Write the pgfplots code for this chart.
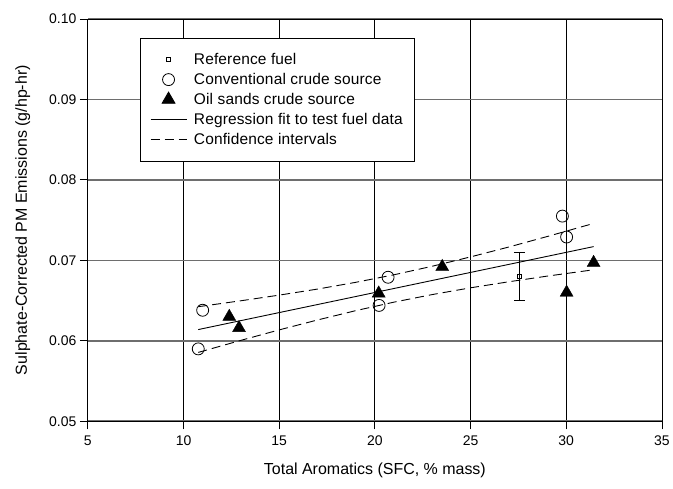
\documentclass[border=0pt]{standalone}
\usepackage{fontspec}
\setmainfont{Liberation Sans}
\usepackage{pgfplots}
\pgfplotsset{compat=1.18}

\definecolor{hgrid}{RGB}{110,110,110}

\begin{document}
\begin{tikzpicture}
\begin{axis}[
    scale only axis,
    width=575pt, height=403pt,
    xmin=5, xmax=35, ymin=0.05, ymax=0.10,
    xtick={5,10,...,35},
    ytick={0.05,0.06,...,0.10},
    grid=major,
    x grid style={black, line width=0.8pt},
    y grid style={hgrid, line width=1.6pt},
    axis line style={black, line width=0.8pt},
    tick pos=left, tick align=outside,
    major tick length=8pt,
    every tick/.style={black, line width=0.8pt},
    /pgf/number format/assume math mode=true,
    yticklabel style={/pgf/number format/.cd, fixed, fixed zerofill, precision=2},
    xticklabel style={yshift=-3pt, /pgf/number format/.cd, fixed},
    tick label style={font=\fontsize{14}{16}\selectfont},
    label style={font=\fontsize{16}{18}\selectfont},
    xlabel={Total Aromatics (SFC, \% mass)},
    ylabel={Sulphate-Corrected PM Emissions (g/hp-hr)},
    xlabel style={yshift=-10pt},
    ylabel style={yshift=12pt},
    legend cell align=left,
    legend style={at={(rel axis cs:0.0904,0.953)}, anchor=north west,
        draw=black, line width=0.8pt, font=\fontsize{15.5}{18}\selectfont\addfontfeatures{LetterSpace=1},
        row sep=3.3pt, inner xsep=10pt, inner ysep=13pt,
        /tikz/every odd column/.append style={column sep=5pt},
        /pgfplots/legend image code/.code={%
            \draw[mark repeat=2,mark phase=2,#1] plot coordinates {(0pt,0pt)(18pt,0pt)(36pt,0pt)};}},
]
% reference fuel with error bar
\addplot[only marks, mark=square, mark size=2pt, line width=0.8pt,
    error bars/.cd, y dir=both, y explicit,
    error mark options={rotate=90, mark size=5.5pt, line width=0.8pt},
    error bar style={line width=0.8pt}]
    coordinates {(27.55,0.0680) +- (0,0.0030)};
\addplot[only marks, mark=o, mark size=6pt, line width=0.8pt, mark options={fill=white}]
    coordinates {(10.77,0.0590) (11.0,0.0638) (20.22,0.0644) (20.69,0.0679) (29.8,0.0755) (30.02,0.0729)};
\addplot[only marks, mark=triangle*, mark size=7.5pt, black]
    coordinates {(12.39,0.0630) (12.9,0.0616) (20.2,0.0659) (23.52,0.0692) (30.02,0.0660) (31.43,0.0697)};
\addplot[black, line width=0.9pt]
    coordinates {(10.77,0.06140) (31.43,0.07171)};
\addplot[black, line width=0.9pt, dash pattern=on 9pt off 5pt]
    coordinates {(10.77,0.06424) (13,0.06498) (15,0.06568) (17,0.06643) (19,0.06727) (21,0.06821)
                 (23,0.06927) (25,0.07043) (27,0.07166) (29,0.07296) (31.43,0.07459)};
\addplot[black, line width=0.9pt, dash pattern=on 9pt off 5pt, forget plot]
    coordinates {(10.77,0.05856) (13,0.06006) (15,0.06136) (17,0.06259) (19,0.06375) (21,0.06481)
                 (23,0.06575) (25,0.06659) (27,0.06734) (29,0.06804) (31.43,0.06883)};
\legend{Reference fuel, Conventional crude source, Oil sands crude source,
        Regression fit to test fuel data, Confidence intervals}
\end{axis}
\path (current axis.south west) ++(-88pt,-67pt);
\path (current axis.north east) ++(10pt,19pt);
\end{tikzpicture}
\end{document}
